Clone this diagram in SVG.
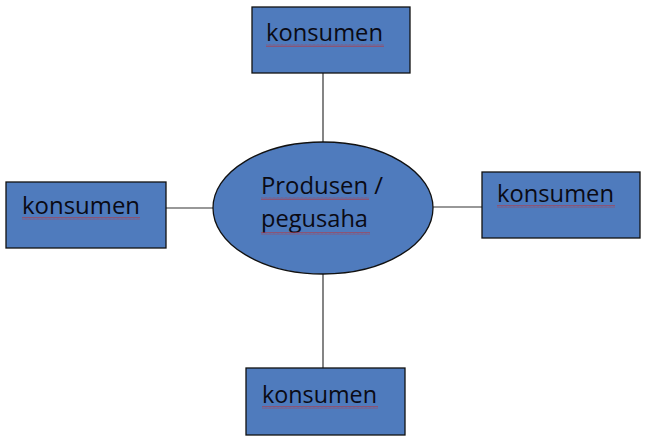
<svg xmlns="http://www.w3.org/2000/svg" width="646" height="443" viewBox="0 0 646 443">
<defs>
<style>
.box{fill:#4f7bbd;stroke:#111;stroke-width:1.3}
.t{font-family:"Open Sans","Liberation Sans",sans-serif;font-size:24px;fill:#0a0a14}
.ln{stroke:#333;stroke-width:1.2;fill:none}
.sq{fill:url(#wave)}
</style>
<pattern id="wave" width="4" height="3" patternUnits="userSpaceOnUse">
<path d="M0 2.5 L1 0.5 L2 2.5 L3 0.5 L4 2.5" fill="none" stroke="#b03a48" stroke-width="0.6"/>
</pattern>
</defs>
<rect width="646" height="443" fill="#ffffff"/>
<g id="connectors">
<line class="ln" x1="323" y1="73" x2="323" y2="142"/>
<line class="ln" x1="323" y1="274" x2="323" y2="368"/>
<line class="ln" x1="166" y1="208" x2="213" y2="208"/>
<line class="ln" x1="433" y1="207" x2="482" y2="207"/>
</g>
<g id="center">
<ellipse class="box" cx="323" cy="208" rx="110" ry="66"/>
<text class="t" x="261" y="194" textLength="122" lengthAdjust="spacingAndGlyphs">Produsen /</text>
<text class="t" x="261" y="227" textLength="107" lengthAdjust="spacingAndGlyphs">pegusaha</text>
<rect class="sq" x="261" y="197" width="108" height="3"/>
<rect class="sq" x="261" y="232" width="109" height="3"/>
</g>
<g id="top">
<rect class="box" x="252" y="7" width="158" height="66"/>
<text class="t" x="266" y="41" textLength="117" lengthAdjust="spacingAndGlyphs">konsumen</text>
<rect class="sq" x="266" y="44" width="118" height="3"/>
</g>
<g id="left">
<rect class="box" x="6" y="182" width="160" height="66"/>
<text class="t" x="22" y="214" textLength="118" lengthAdjust="spacingAndGlyphs">konsumen</text>
<rect class="sq" x="22" y="217" width="118" height="3"/>
</g>
<g id="right">
<rect class="box" x="482" y="172" width="158" height="66"/>
<text class="t" x="497" y="202" textLength="117" lengthAdjust="spacingAndGlyphs">konsumen</text>
<rect class="sq" x="497" y="205" width="118" height="3"/>
</g>
<g id="bottom">
<rect class="box" x="246" y="368" width="159" height="67"/>
<text class="t" x="262" y="403" textLength="115" lengthAdjust="spacingAndGlyphs">konsumen</text>
<rect class="sq" x="262" y="406" width="116" height="3"/>
</g>
</svg>
